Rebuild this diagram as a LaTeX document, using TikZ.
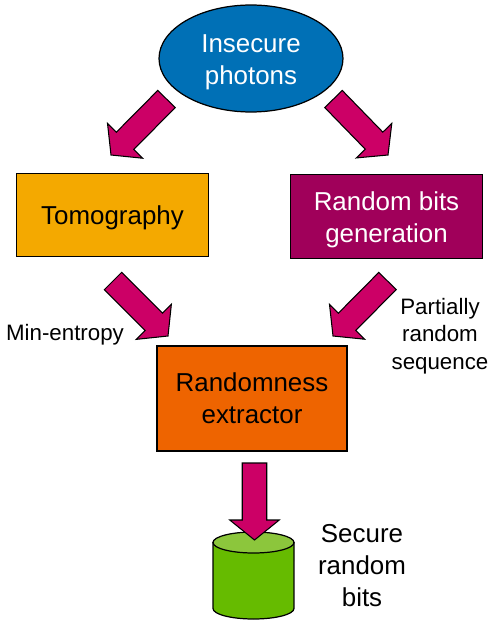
\documentclass[tikz,border=0pt]{standalone}
\usepackage{fontspec}
\setmainfont{Liberation Sans}
\usetikzlibrary{calc, shapes.geometric}

\begin{document}
\begin{tikzpicture}[x=0.02cm, y=-0.02cm]
    % Define arrow sizes
    \def\shaftHalf{0.245cm}
    \def\headHalf{0.495cm}
    \def\headLength{0.4cm}

    % Push the first line down a little
    \def\topStrut{\rule{0pt}{14pt}}

    \definecolor{photonColour}{HTML}{0070B6}
    \definecolor{tomoColour}{HTML}{F4A900}
    \definecolor{bitsColour}{HTML}{A0005A}
    \definecolor{extractorColour}{HTML}{EE6400}
    \definecolor{cylinderColour}{HTML}{66BB00}
    \definecolor{cylinderTop}{HTML}{8CC63C}
    \definecolor{arrowColour}{HTML}{CC0066}

    \tikzset{
        box/.style={draw=black, line width=0.7pt, align=center, inner sep=0pt,
            font=\fontsize{14.75}{18.2}\selectfont},
        label/.style={align=center, inner sep=0pt, font=\fontsize{12.7}{15.6}\selectfont},
        blockArrow/.style={fill=arrowColour, draw=black, line width=0.6pt, to path={
            ($(\tikztostart)!\shaftHalf!90:(\tikztotarget)$)
            -- ($(\tikztotarget)!\headLength!(\tikztostart)!\shaftHalf!-90:(\tikztostart)$)
            -- ($(\tikztotarget)!\headLength!(\tikztostart)!\headHalf!-90:(\tikztostart)$)
            -- (\tikztotarget)
            -- ($(\tikztotarget)!\headLength!(\tikztostart)!\headHalf!90:(\tikztostart)$)
            -- ($(\tikztotarget)!\headLength!(\tikztostart)!\shaftHalf!90:(\tikztostart)$)
            -- ($(\tikztostart)!\shaftHalf!-90:(\tikztotarget)$)
            -- cycle}}
    }

    \useasboundingbox (0,0) rectangle (500,625);

    % Draw the nodes
    \node[box, ellipse, fill=photonColour, text=white, minimum width=3.68cm, minimum height=2.14cm] (photons) at (251,58.5) {\topStrut Insecure\\photons};
    \node[box, fill=tomoColour, minimum width=3.84cm, minimum height=1.67cm] (tomography) at (112.5,215) {\topStrut Tomography};
    \node[box, fill=bitsColour, text=white, minimum width=3.85cm, minimum height=1.67cm] (generation) at (386.5,216.5) {\topStrut Random bits\\generation};
    \node[box, fill=extractorColour, minimum width=3.8cm, minimum height=2.1cm] (extractor) at (252,398.5) {Randomness\\extractor};

    % Draw the cylinder
    \draw[fill=cylinderColour, draw=black, line width=0.7pt] (213,542.5) -- (213,608.5)
        arc[start angle=180, end angle=360, x radius=0.81cm, y radius=0.21cm] -- (294,542.5) -- cycle;
    \draw[fill=cylinderTop, draw=black, line width=0.7pt] (253.5,542.5) circle[x radius=0.81cm, y radius=0.21cm];

    % Draw the labels
    \node[label] (minEntropy) at (65,335) {Min-entropy};
    \node[label] (sequence) at (440,336) {Partially\\random\\sequence};
    \node[box, draw=none] (secureBits) at (362,562) {\topStrut Secure\\random\\bits};

    % Define the arrow ends
    \coordinate (photonsLeft) at (166.5,99);
    \coordinate (tomographyIn) at (111,155);
    \coordinate (photonsRight) at (333.5,99);
    \coordinate (generationIn) at (388,155);
    \coordinate (tomographyOut) at (113,281);
    \coordinate (extractorLeft) at (168,336);
    \coordinate (generationOut) at (387.5,281);
    \coordinate (extractorRight) at (333,336);
    \coordinate (extractorOut) at (254.5,463);
    \coordinate (storageIn) at (254.5,540);

    % Draw the arrows
    \draw[blockArrow] (photonsLeft) to (tomographyIn);
    \draw[blockArrow] (photonsRight) to (generationIn);
    \draw[blockArrow] (tomographyOut) to (extractorLeft);
    \draw[blockArrow] (generationOut) to (extractorRight);
    \draw[blockArrow] (extractorOut) to (storageIn);

\end{tikzpicture}
\end{document}
